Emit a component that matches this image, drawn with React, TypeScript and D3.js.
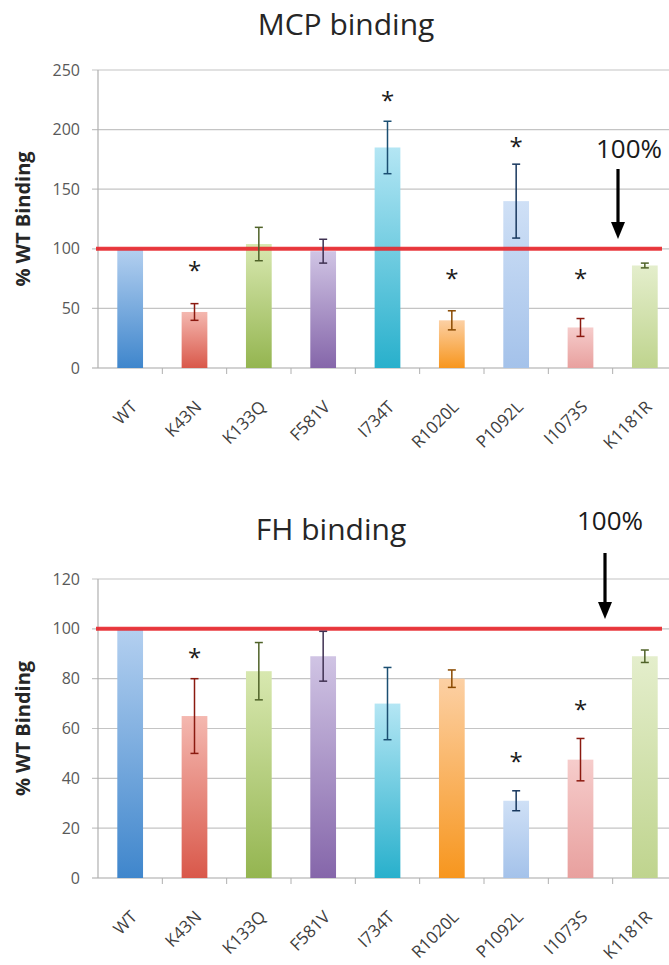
import React from 'react';
import * as d3 from 'd3';

// categories shared by both panels
const mutants = ['WT', 'K43N', 'K133Q', 'F581V', 'I734T', 'R1020L', 'P1092L', 'I1073S', 'K1181R'];

// MCP binding (% of WT)
const mcpValues = [100, 47, 104, 98, 185, 40, 140, 34, 86];
const mcpErrors = [0, 7, 14, 10, 22, 8, 31, 7.5, 2];
const mcpStars = [null, 85, null, null, 227, 78, 189, 78, null];
const mcpTicks = [0, 50, 100, 150, 200, 250];

// FH binding (% of WT)
const fhValues = [100, 65, 83, 89, 70, 80, 31, 47.5, 89];
const fhErrors = [0, 15, 11.5, 10, 14.5, 3.5, 4, 8.5, 2.5];
const fhStars = [null, 90, null, null, null, null, 48, 69, null];
const fhTicks = [0, 20, 40, 60, 80, 100, 120];

// bar gradients: [top (light), bottom (dark)], plus error bar colour
const barTop = ['#b4d0f0', '#f4b8b0', '#d8e8b0', '#d0c4e4', '#b4e6f4', '#fcd0a4', '#cfe0f6', '#f6cccb', '#e4eecc'];
const barBottom = ['#3f86cc', '#d9584a', '#94b550', '#8566aa', '#28b0cc', '#f7961e', '#a4c2ea', '#e8a09e', '#bfd48e'];
const errColor = ['#1f4e79', '#8b1a10', '#4f6228', '#3f3151', '#1b4f72', '#8a4a00', '#17375e', '#8b1a10', '#4f6228'];

const W = 669;
const H = 965;
const font = '"Open Sans", "DejaVu Sans", sans-serif';

type PanelProps = {
  id: string;
  title: string;
  titleX: number;
  titleY: number;
  values: number[];
  errors: number[];
  stars: (number | null)[];
  ticks: number[];
  yTop: number;
  yBottom: number;
  arrowX: number;
  arrowY: [number, number];
  pctX: number;
  pctY: number;
};

const Panel = ({ id, title, titleX, titleY, values, errors, stars, ticks, yTop, yBottom, arrowX, arrowY, pctX, pctY }: PanelProps) => {
  const x = d3.scaleBand<string>().domain(mutants).range([98, 677]).paddingInner(0.6).paddingOuter(0.3);
  const y = d3.scaleLinear().domain([0, ticks[ticks.length - 1]]).range([yBottom, yTop]);
  const step = x.step();
  const bw = x.bandwidth();

  return (
    <g>
      <defs>
        {mutants.map((m, i) => (
          <linearGradient key={m} id={`${id}-g${i}`} x1="0" y1="0" x2="0" y2="1">
            <stop offset="0%" stopColor={barTop[i]} />
            <stop offset="100%" stopColor={barBottom[i]} />
          </linearGradient>
        ))}
      </defs>

      <text x={titleX} y={titleY} textAnchor="middle" fontFamily={font} fontSize={30} fill="#262626">
        {title}
      </text>

      {/* gridlines + y ticks */}
      {ticks.map((t) => (
        <g key={t}>
          <line x1={92} x2={W} y1={y(t)} y2={y(t)} stroke={t === 0 ? '#a6a6a6' : '#c4c4c4'} strokeWidth={1.2} />
          <text x={80} y={y(t) + 5.5} textAnchor="end" fontFamily={font} fontSize={16} fill="#595959">
            {t}
          </text>
        </g>
      ))}
      <line x1={98} x2={98} y1={yTop} y2={yBottom} stroke="#b0b0b0" strokeWidth={1.2} />

      {/* category separators on the x axis */}
      {mutants.slice(1).map((m) => (
        <line key={m} x1={x(m)! - (step - bw) / 2} x2={x(m)! - (step - bw) / 2} y1={yBottom} y2={yBottom + 6} stroke="#b0b0b0" />
      ))}

      <text
        transform={`translate(30, ${(yTop + yBottom) / 2}) rotate(-90)`}
        textAnchor="middle"
        fontFamily={font}
        fontWeight="bold"
        fontSize={20}
        fill="#262626"
      >
        % WT Binding
      </text>

      {/* bars */}
      {mutants.map((m, i) => (
        <rect key={m} x={x(m)} y={y(values[i])} width={bw} height={yBottom - y(values[i])} fill={`url(#${id}-g${i})`} />
      ))}

      {/* reference line at 100% */}
      <line x1={96} x2={662} y1={y(100)} y2={y(100)} stroke="#e8262b" strokeOpacity={0.9} strokeWidth={4} />

      {/* error bars */}
      {mutants.map((m, i) => {
        if (!errors[i]) return null;
        const cx = x(m)! + bw / 2;
        const hi = y(values[i] + errors[i]);
        const lo = y(values[i] - errors[i]);
        return (
          <g key={m} stroke={errColor[i]} strokeWidth={1.5}>
            <line x1={cx} x2={cx} y1={hi} y2={lo} />
            <line x1={cx - 4} x2={cx + 4} y1={hi} y2={hi} />
            <line x1={cx - 4} x2={cx + 4} y1={lo} y2={lo} />
          </g>
        );
      })}

      {/* significance stars */}
      {mutants.map((m, i) =>
        stars[i] == null ? null : (
          <text key={m} x={x(m)! + bw / 2} y={y(stars[i]!) + 12} textAnchor="middle" fontFamily={font} fontSize={24} fill="#1a1a1a">
            *
          </text>
        )
      )}

      {/* x labels */}
      {mutants.map((m) => (
        <text
          key={m}
          transform={`translate(${x(m)! + bw / 2 + 8}, ${yBottom + 40}) rotate(-45)`}
          textAnchor="end"
          fontFamily={font}
          fontSize={17}
          fill="#404040"
        >
          {m}
        </text>
      ))}

      {/* 100% arrow */}
      <text x={pctX} y={pctY} textAnchor="middle" fontFamily={font} fontSize={26} fill="#1a1a1a">
        100%
      </text>
      <line x1={arrowX} x2={arrowX} y1={arrowY[0]} y2={arrowY[1] - 12} stroke="#000" strokeWidth={3.2} />
      <path d={`M${arrowX - 7},${arrowY[1] - 17} L${arrowX + 7},${arrowY[1] - 17} L${arrowX},${arrowY[1]} Z`} fill="#000" />
    </g>
  );
};

export default function App() {
  return (
    <svg width={W} height={H} style={{ position: 'absolute', left: 0, top: 0, background: '#fff' }}>
      <rect width={W} height={H} fill="#fff" />
      <Panel
        id="mcp"
        title="MCP binding"
        titleX={346}
        titleY={35}
        values={mcpValues}
        errors={mcpErrors}
        stars={mcpStars}
        ticks={mcpTicks}
        yTop={70}
        yBottom={368}
        arrowX={618}
        arrowY={[169, 239]}
        pctX={629}
        pctY={158}
      />
      <Panel
        id="fh"
        title="FH binding"
        titleX={331}
        titleY={540}
        values={fhValues}
        errors={fhErrors}
        stars={fhStars}
        ticks={fhTicks}
        yTop={579}
        yBottom={878}
        arrowX={605}
        arrowY={[553, 619]}
        pctX={610}
        pctY={530}
      />
    </svg>
  );
}
